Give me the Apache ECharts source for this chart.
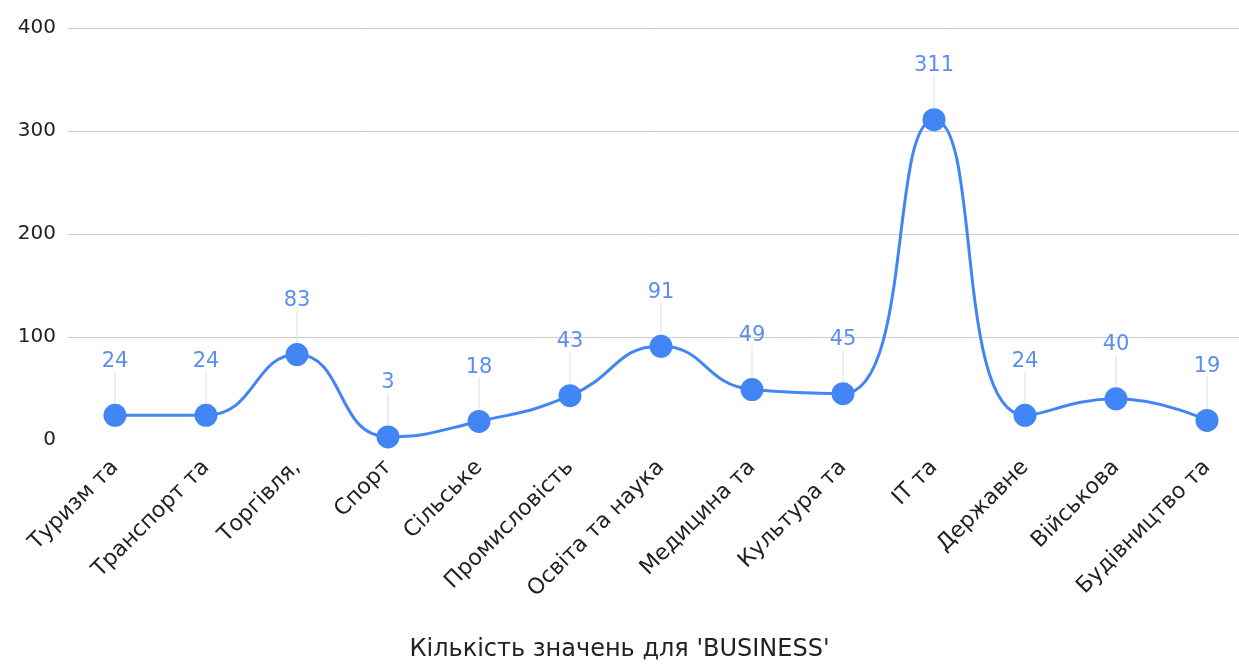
<!DOCTYPE html>
<html><head><meta charset="utf-8">
<script src="https://cdn.jsdelivr.net/npm/echarts@6/dist/echarts.min.js"></script>
<style>html,body{margin:0;padding:0;background:#fff}#c{width:1239px;height:665px}</style>
</head><body><div id="c"></div>
<script>
const categories = ["Туризм та","Транспорт та","Торгівля,","Спорт","Сільське","Промисловість","Освіта та наука","Медицина та","Культура та","IT та","Державне","Військова","Будівництво та"];
const values = [24,24,83,3,18,43,91,49,45,311,24,40,19];
const yTicks = [0,100,200,300,400];
const axisTitle = "Кількість значень для 'BUSINESS'";

const font = "'DejaVu Sans', Roboto, Arial, sans-serif";
const chart = echarts.init(document.getElementById('c'), null, {renderer:'canvas'});
chart.setOption({
  animation:false,
  title:{text:axisTitle,left:'center',top:633,textStyle:{fontFamily:font,fontSize:24,fontWeight:'normal',color:'#222'}},
  grid:[
    {left:68,right:0,top:28,bottom:225},
    {left:115,right:32,top:28,bottom:225}
  ],
  xAxis:[
    {gridIndex:0,type:'category',data:categories,show:false},
    {gridIndex:1,type:'category',data:categories,boundaryGap:false,
     axisLine:{show:false},axisTick:{show:false},
     axisLabel:{rotate:45,interval:0,margin:24,fontFamily:font,fontSize:22,color:'#222'}}
  ],
  yAxis:[
    {gridIndex:0,type:'value',min:yTicks[0],max:yTicks[yTicks.length-1],interval:100,
     axisLine:{show:false},axisTick:{show:false},
     axisLabel:{margin:12,fontFamily:font,fontSize:20,color:'#222'},
     splitLine:{lineStyle:{color:['rgba(0,0,0,0)','#ccc','#ccc','#ccc','#ccc'],width:1}}},
    {gridIndex:1,type:'value',min:yTicks[0],max:yTicks[yTicks.length-1],interval:100,show:false,splitLine:{show:false}}
  ],
  series:[{
    type:'line',xAxisIndex:1,yAxisIndex:1,data:values,smooth:0.5,
    symbol:'circle',symbolSize:23,
    lineStyle:{color:'#4285f4',width:3},
    itemStyle:{color:'#4285f4'},
    label:{show:true,position:'top',distance:10,fontFamily:font,fontSize:21,color:'#5a8ff0'},
    labelLayout:{dy:-22},
    labelLine:{show:true,lineStyle:{color:'#ddd',width:1}}
  }]
});
</script></body></html>
